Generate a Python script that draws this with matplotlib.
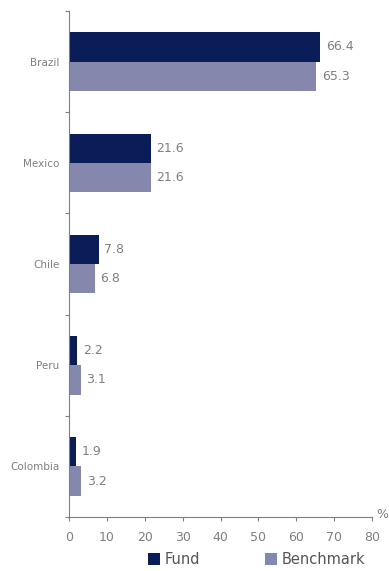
import numpy as np
import matplotlib.pyplot as plt

countries = ['Brazil', 'Mexico', 'Chile', 'Peru', 'Colombia']
fund = [66.4, 21.6, 7.8, 2.2, 1.9]
benchmark = [65.3, 21.6, 6.8, 3.1, 3.2]

fund_color = '#0b1d59'
bench_color = '#8587ad'
grey = '#7f7f7f'

fig = plt.figure(figsize=(3.89, 5.71), dpi=100)
ax = fig.add_axes([0.1774, 0.0946, 0.7789, 0.886])

y = np.arange(len(countries))
h = 0.29
ax.barh(y - h / 2, fund, height=h, color=fund_color, label='Fund')
ax.barh(y + h / 2, benchmark, height=h, color=bench_color, label='Benchmark')

for i in range(len(countries)):
    ax.text(fund[i] + 1.5, y[i] - h / 2, f'{fund[i]:.1f}', va='center', ha='left', fontsize=9, color=grey)
    ax.text(benchmark[i] + 1.5, y[i] + h / 2, f'{benchmark[i]:.1f}', va='center', ha='left', fontsize=9, color=grey)

ax.set_ylim(len(countries) - 0.5, -0.5)
ax.set_xlim(0, 80)
ax.set_xticks(range(0, 81, 10))
ax.set_yticks(np.arange(-0.5, len(countries)))
ax.set_yticklabels([])
ax.set_yticks(y, minor=True)
ax.set_yticklabels(countries, minor=True, fontsize=7.5, color=grey)
ax.tick_params(axis='y', which='minor', length=0, pad=7)
ax.tick_params(axis='y', which='major', length=3, color=grey)
ax.tick_params(axis='x', length=3, color=grey, labelcolor=grey, labelsize=9, pad=7)

for s in ['top', 'right']:
    ax.spines[s].set_visible(False)
for s in ['left', 'bottom']:
    ax.spines[s].set_color(grey)

ax.text(1.015, 0.005, '%', transform=ax.transAxes, fontsize=9, color=grey, ha='left', va='center')

fig.legend(loc='lower center', bbox_to_anchor=(0.66, -0.016), ncol=2, frameon=False,
           fontsize=10.5, handlelength=0.8, handleheight=0.8, handletextpad=0.3,
           columnspacing=4.5, labelcolor='#555555')

fig.savefig('out.png', dpi=100)
